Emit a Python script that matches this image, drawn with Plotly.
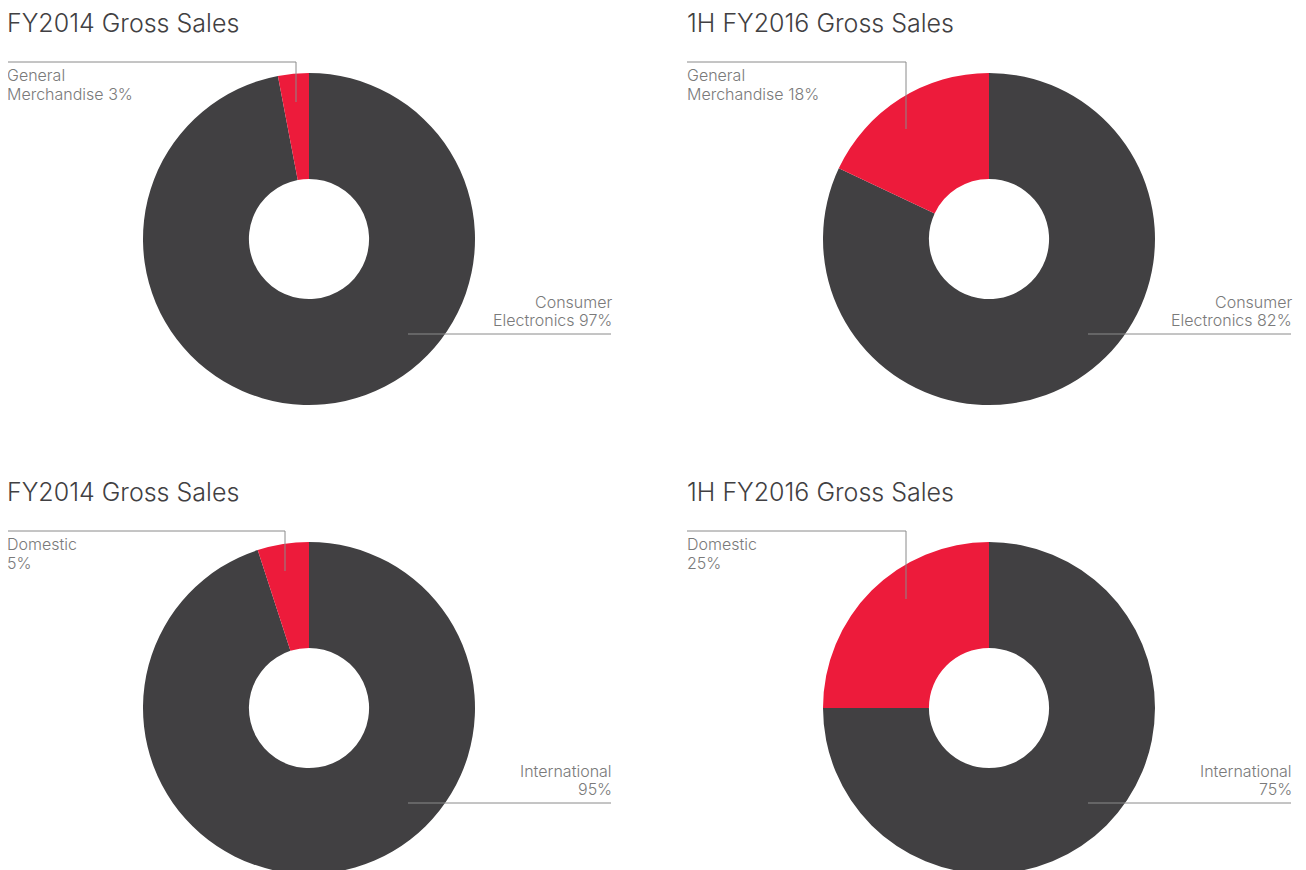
import plotly.graph_objects as go

# page offset introduced by the default body margin of the html page
OFF = 8
W, H = 1306 - OFF, 870

titles = ["FY2014 Gross Sales", "1H FY2016 Gross Sales", "FY2014 Gross Sales", "1H FY2016 Gross Sales"]
red_labels = ["General<br>Merchandise 3%", "General<br>Merchandise 18%", "Domestic<br>5%", "Domestic<br>25%"]
dark_labels = ["Consumer<br>Electronics 97%", "Consumer<br>Electronics 82%", "International<br>95%", "International<br>75%"]
red_names = ["General Merchandise", "General Merchandise", "Domestic", "Domestic"]
dark_names = ["Consumer Electronics", "Consumer Electronics", "International", "International"]
red_values = [3, 18, 5, 25]
dark_values = [97, 82, 95, 75]

RED = "#ED1B3B"
DARK = "#414042"
LINE = "#8a8a8a"
LABEL = "#7a7a7a"
TITLE = "#414042"
FONT = "Inter"
LABEL_SIZE = 16
LINE_GAP = 18.7

# panel geometry (page pixels)
centers = [(309, 239), (989, 239), (309, 708), (989, 708)]
R = 166
offsets_x = [0, 680, 0, 680]
offsets_y = [0, 0, 469, 469]
leader_x = [296, 906, 285, 906]
leader_bottom = [102, 129, 571, 599]


def px(x):
    return (x - OFF) / W


def py(y):
    return 1 - (y - OFF) / H


fig = go.Figure()
shapes = []
annotations = []
for i in range(4):
    cx, cy = centers[i]
    # dark slice first: in counterclockwise mode plotly lays the first slice
    # clockwise from 12 o'clock, so the red slice ends up left of 12 o'clock
    fig.add_trace(go.Pie(
        labels=[dark_names[i], red_names[i]],
        values=[dark_values[i], red_values[i]],
        hole=0.362,
        sort=False,
        direction="counterclockwise",
        rotation=0,
        marker=dict(colors=[DARK, RED], line=dict(width=0)),
        textinfo="none",
        hoverinfo="label+percent",
        showlegend=False,
        domain=dict(x=[px(cx - R), px(cx + R)], y=[max(0.0, py(cy + R)), min(1.0, py(cy - R))]),
    ))
    ox, oy = offsets_x[i], offsets_y[i]
    annotations.append(dict(
        text=titles[i], x=px(ox + 5), y=py(oy + 6), xref="paper", yref="paper",
        xanchor="left", yanchor="top", showarrow=False,
        font=dict(family=FONT, size=25, color=TITLE, weight=300),
    ))
    for k, line in enumerate(red_labels[i].split("<br>")):
        annotations.append(dict(
            text=line, x=px(ox + 5), y=py(oy + 63 + k * LINE_GAP), xref="paper", yref="paper",
            xanchor="left", yanchor="top", showarrow=False, align="left",
            font=dict(family=FONT, size=LABEL_SIZE, color=LABEL, weight=300),
        ))
    for k, line in enumerate(dark_labels[i].split("<br>")):
        annotations.append(dict(
            text=line, x=px(ox + 614), y=py(oy + 289.5 + k * LINE_GAP), xref="paper", yref="paper",
            xanchor="right", yanchor="top", showarrow=False, align="right",
            font=dict(family=FONT, size=LABEL_SIZE, color=LABEL, weight=300),
        ))
    # leader line for red slice
    shapes.append(dict(
        type="path", xref="paper", yref="paper", layer="above",
        path=f"M {px(ox + 7)},{py(oy + 62)} L {px(leader_x[i])},{py(oy + 62)} L {px(leader_x[i])},{py(leader_bottom[i])}",
        line=dict(color=LINE, width=1),
    ))
    # leader line for dark slice
    shapes.append(dict(
        type="line", xref="paper", yref="paper", layer="above",
        x0=px(ox + 408), x1=px(ox + 611), y0=py(oy + 334), y1=py(oy + 334),
        line=dict(color=LINE, width=1),
    ))

fig.update_layout(
    width=W, height=H,
    margin=dict(l=0, r=0, t=0, b=0),
    paper_bgcolor="white",
    plot_bgcolor="white",
    shapes=shapes,
    annotations=annotations,
)

fig.write_html("out.html")
